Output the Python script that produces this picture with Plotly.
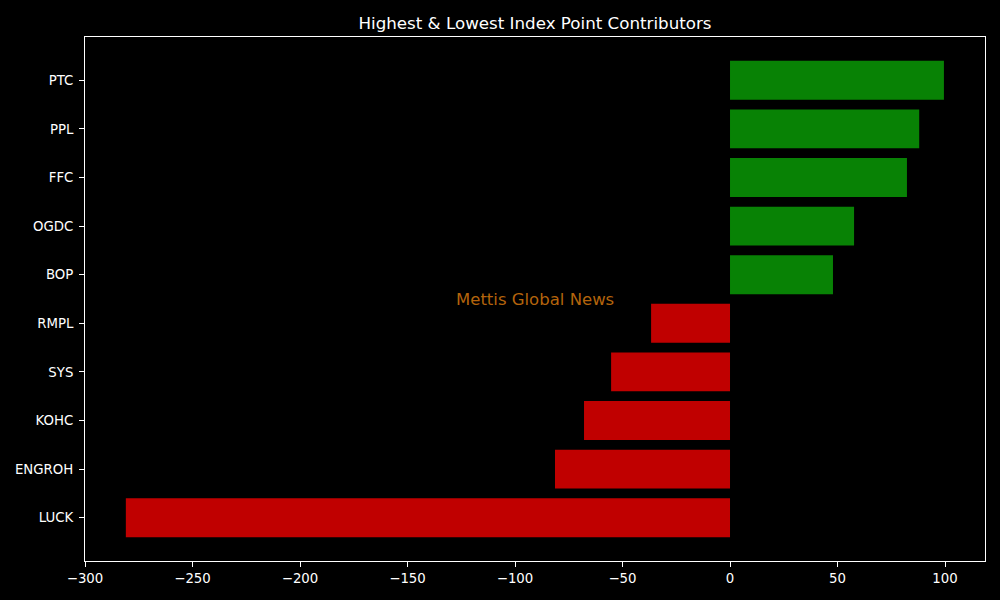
import plotly.graph_objects as go

categories = ["LUCK", "ENGROH", "KOHC", "SYS", "RMPL", "BOP", "OGDC", "FFC", "PPL", "PTC"]
values = [-281.0, -81.4, -67.9, -55.3, -36.7, 47.9, 57.7, 82.3, 88.0, 99.5]
x_ticks = [-300, -250, -200, -150, -100, -50, 0, 50, 100]

GREEN = "#088205"
RED = "#c00000"
colors = [GREEN if v >= 0 else RED for v in values]
ypos = list(range(len(categories)))

fig = go.Figure()
fig.add_trace(go.Bar(
    x=values, y=ypos, orientation="h", width=0.8,
    marker=dict(color=colors, line=dict(width=0)),
    hoverinfo="x+text", text=categories, textposition="none",
))

font = dict(family="DejaVu Sans", size=13.3, color="white")
fig.update_layout(
    width=1000, height=600,
    paper_bgcolor="black", plot_bgcolor="black",
    margin=dict(l=85, r=15, t=37, b=39),
    showlegend=False,
    font=font,
    title=dict(text="Highest & Lowest Index Point Contributors",
               x=0.5, xref="paper", xanchor="center",
               y=1 - 23 / 600, yref="container", yanchor="middle",
               font=dict(family="DejaVu Sans", size=16.7, color="white")),
    xaxis=dict(range=[-300, 118.6], tickvals=x_ticks, ticktext=[("\u2212" + str(-t)) if t < 0 else str(t) for t in x_ticks],
               showgrid=False, zeroline=False, showline=True, linecolor="white", linewidth=1,
               mirror=True, ticks="outside", ticklen=5, tickcolor="white", tickwidth=1,
               tickfont=font),
    yaxis=dict(range=[-0.89, 9.89], tickvals=ypos, ticktext=categories,
               showgrid=False, zeroline=False, showline=True, linecolor="white", linewidth=1,
               mirror=True, ticks="outside", ticklen=5, tickcolor="white", tickwidth=1,
               ticklabelstandoff=3, tickfont=font),
    annotations=[dict(text="Mettis Global News", x=0.5, y=0.5, xref="paper", yref="paper",
                      xanchor="center", yanchor="middle", showarrow=False,
                      font=dict(family="DejaVu Sans", size=16.5, color="#b4640c"))],
)

fig.write_html("out.html", config={"displayModeBar": False},
               post_script="document.body.style.margin='0';document.body.style.background='black';")
